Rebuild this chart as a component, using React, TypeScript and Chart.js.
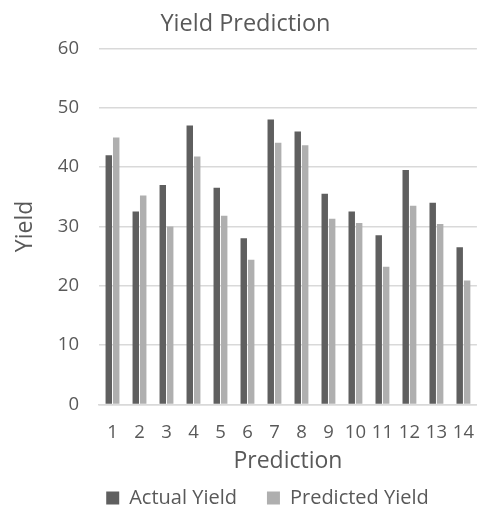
import React, { useEffect, useRef } from "react";
import { Chart, registerables } from "chart.js";

Chart.register(...registerables);

const categories = ["1", "2", "3", "4", "5", "6", "7", "8", "9", "10", "11", "12", "13", "14"];
const actualYield = [42, 32.5, 37, 47, 36.5, 28, 48, 46, 35.5, 32.5, 28.5, 39.5, 34, 26.5];
const predictedYield = [45, 35.2, 30, 41.8, 31.8, 24.4, 44.1, 43.7, 31.3, 30.6, 23.2, 33.5, 30.4, 20.9];
const seriesNames = ["Actual Yield", "Predicted Yield"];
const yTicks = [0, 10, 20, 30, 40, 50, 60];

const TEXT = "#595959";
const GRID = "#d9d9d9";
const FONT = "'Open Sans', sans-serif";

// Nudges the legend row under the plot once the layout is known,
// keeping its box tall enough that the clip area holds the items.
const legendPlacement = {
  id: "legendPlacement",
  afterLayout(chart: any) {
    const lg = chart.legend;
    if (!lg) return;
    const dx = 22;
    const dy = -34;
    lg.left += dx;
    lg.right += dx;
    lg.top += dy;
    lg.height = 80;
    lg.bottom = lg.top + lg.height;
  },
};

export default function App() {
  const canvasRef = useRef<HTMLCanvasElement | null>(null);

  useEffect(() => {
    document.body.style.margin = "0";
    const canvas = canvasRef.current;
    if (!canvas) return;

    const chart = new Chart(canvas, {
      type: "bar",
      data: {
        labels: categories,
        datasets: [
          {
            label: seriesNames[0],
            data: actualYield,
            backgroundColor: "#5f5f5f",
            categoryPercentage: 0.55,
            barPercentage: 0.87,
          },
          {
            label: seriesNames[1],
            data: predictedYield,
            backgroundColor: "#afafaf",
            categoryPercentage: 0.55,
            barPercentage: 0.87,
          },
        ],
      },
      plugins: [legendPlacement],
      options: {
        responsive: false,
        animation: false,
        layout: { padding: { left: 0, right: 0, top: 0, bottom: 0 } },
        plugins: {
          title: {
            display: true,
            text: "Yield Prediction",
            color: TEXT,
            font: { family: FONT, size: 23.5, weight: "normal" },
            padding: { top: 10, bottom: 10.2 },
          },
          legend: {
            display: true,
            position: "bottom",
            maxHeight: 20,
            labels: {
              color: TEXT,
              font: { family: FONT, size: 20 },
              boxWidth: 13,
              boxHeight: 13,
              padding: 30,
            },
          },
          tooltip: { enabled: false },
        },
        scales: {
          x: {
            grid: { display: false, drawTicks: false },
            border: { display: true, color: GRID, width: 1.5 },
            ticks: {
              color: TEXT,
              font: { family: FONT, size: 18.5 },
              padding: 17,
              maxRotation: 0,
              autoSkip: false,
            },
            title: {
              display: true,
              text: "Prediction",
              color: TEXT,
              font: { family: FONT, size: 23 },
              padding: { top: 0, bottom: 17 },
            },
            afterFit(scale: any) {
              scale.height = 87.5;
            },
          },
          y: {
            min: 0,
            max: 60,
            afterBuildTicks(scale: any) {
              scale.ticks = yTicks.map((v) => ({ value: v }));
            },
            grid: { color: GRID, lineWidth: 1.5, drawTicks: false },
            border: { display: false },
            ticks: {
              color: TEXT,
              font: { family: FONT, size: 18.5 },
              padding: 20,
            },
            title: {
              display: true,
              text: "Yield",
              color: TEXT,
              font: { family: FONT, size: 23 },
              padding: { top: 12, bottom: 0 },
            },
            afterFit(scale: any) {
              scale.width = 99;
            },
          },
        },
      },
    });

    return () => chart.destroy();
  }, []);

  return (
    <div style={{ width: 491, height: 512, background: "#ffffff" }}>
      <canvas ref={canvasRef} width={491} height={512} />
    </div>
  );
}
